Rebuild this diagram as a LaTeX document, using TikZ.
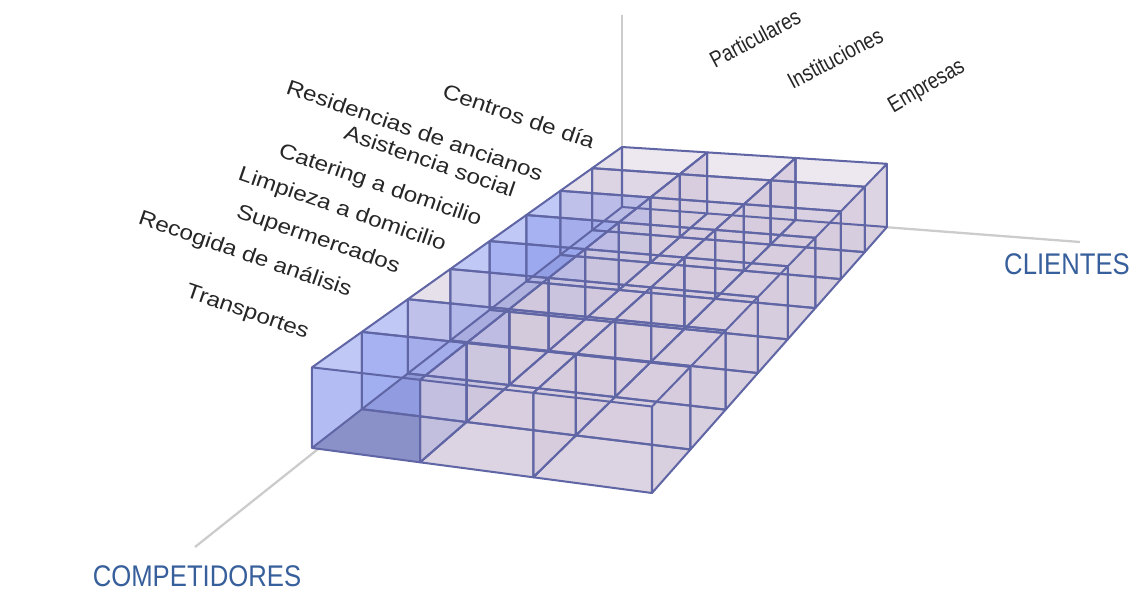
\documentclass[tikz,border=0pt]{standalone}
\usepackage{fontspec}
\setmainfont{Liberation Sans}
\usepackage{tikz}
\usetikzlibrary{math}
\usetikzlibrary{positioning}

\definecolor{edgeblue}{RGB}{96,102,165}
\definecolor{pinkwall}{RGB}{214,204,222}
\definecolor{pinkfloor}{RGB}{224,216,228}
\definecolor{bluewall}{RGB}{150,164,238}
\definecolor{bluefloor}{RGB}{132,138,184}
\definecolor{axisblue}{RGB}{55,95,155}

\tikzstyle{cellline} = [edgeblue, line width=1.15pt, line join=round]
\tikzstyle{axisline} = [gray!40, line width=1.3pt]
\tikzstyle{sector} = [rotate=-19, xscale=1.15, transform shape, font=\fontsize{12}{14}\selectfont, text=black!85, inner sep=1pt]
\tikzstyle{client} = [rotate=28, xscale=0.82, transform shape, font=\fontsize{13}{15}\selectfont, text=black!85, inner sep=1pt]
\tikzstyle{axislabel} = [xscale=0.86, transform shape, font=\fontsize{17}{20}\selectfont, text=axisblue, inner sep=0pt]

% one box of the grid: column, row, wall colour, floor colour
\newcommand{\gridcell}[4]{%
  \pgfmathtruncatemacro\ia{#1+1}%
  \pgfmathtruncatemacro\ja{#2+1}%
  \fill[#4] (b#1#2) -- (b\ia#2) -- (b\ia\ja) -- (b#1\ja) -- cycle;
  \fill[#3, fill opacity=0.6] (b#1#2) -- (b#1\ja) -- (t#1\ja) -- (t#1#2) -- cycle;
  \fill[#3, fill opacity=0.45] (b#1#2) -- (b\ia#2) -- (t\ia#2) -- (t#1#2) -- cycle;
  \fill[#3, fill opacity=0.7] (b\ia#2) -- (b\ia\ja) -- (t\ia\ja) -- (t\ia#2) -- cycle;
  \fill[#3, fill opacity=0.3] (b#1\ja) -- (b\ia\ja) -- (t\ia\ja) -- (t#1\ja) -- cycle;
}
\newcommand{\celledges}[2]{%
  \pgfmathtruncatemacro\ia{#1+1}%
  \pgfmathtruncatemacro\ja{#2+1}%
  \draw[cellline] (b#1#2) -- (b\ia#2) -- (b\ia\ja) -- (b#1\ja) -- cycle
    (t#1#2) -- (t\ia#2) -- (t\ia\ja) -- (t#1\ja) -- cycle
    (b#1#2) -- (t#1#2) (b\ia#2) -- (t\ia#2) (b\ia\ja) -- (t\ia\ja) (b#1\ja) -- (t#1\ja);
}

\begin{document}
\begin{tikzpicture}[x=0.02cm, y=-0.02cm,
  declare function={
    pw(\x,\y)=1-0.016912*\x-0.031956*\y;
    pu(\x,\y)=(622+73.332*\x-48.720*\y)/pw(\x,\y);
    pv(\x,\y,\z)=(207+2.828*\x+15.809*\y-60*\z)/pw(\x,\y);
  }]

  \useasboundingbox (0,0) rectangle (1136,592);

  % corners of the grid, bottom (b) and top (t)
  \foreach \i in {0,...,3}{
    \foreach \j in {0,...,8}{
      \coordinate (b\i\j) at ({pu(\i,\j)},{pv(\i,\j,0)});
      \coordinate (t\i\j) at ({pu(\i,\j)},{pv(\i,\j,1)});
    }
  }

  % axes
  \coordinate (zend) at (622,15);
  \coordinate (cend) at (1080,242);
  \coordinate (kend) at (195,547);
  \draw[axisline] (b00) -- (zend);
  \draw[axisline] (b00) -- (cend);
  \draw[axisline] (b00) -- (kend);

  % boxes, back to front
  \foreach \j/\kind in {0/pink,1/pink,2/blue,3/blue,4/blue,5/pink,6/blue,7/blue}{
    \gridcell{0}{\j}{\kind wall}{\kind floor}
    \gridcell{1}{\j}{pinkwall}{pinkfloor}
    \gridcell{2}{\j}{pinkwall}{pinkfloor}
  }
  \foreach \j in {0,...,7}{
    \foreach \i in {0,1,2}{
      \celledges{\i}{\j}
    }
  }

  % competitors
  \node[sector] (centros) at (519,116) {Centros de día};
  \node[sector] (residencias) at (415,130) {Residencias de ancianos};
  \node[sector] (asistencia) at (430,161) {Asistencia social};
  \node[sector] (catering) at (380,186) {Catering a domicilio};
  \node[sector] (limpieza) at (342,210) {Limpieza a domicilio};
  \node[sector] (super) at (318,240) {Supermercados};
  \node[sector] (recogida) at (245,255) {Recogida de análisis};
  \node[sector] (transportes) at (247,313) {Transportes};

  % clients
  \node[client] (particulares) at (755,38) {Particulares};
  \node[client] (instituciones) at (835,58) {Instituciones};
  \node[client, rotate=2] (empresas) at (927,87) {Empresas};

  \node[axislabel] (clientes) at (1067,264) {CLIENTES};
  \node[axislabel] (competidores) at (197,576) {COMPETIDORES};

\end{tikzpicture}
\end{document}
